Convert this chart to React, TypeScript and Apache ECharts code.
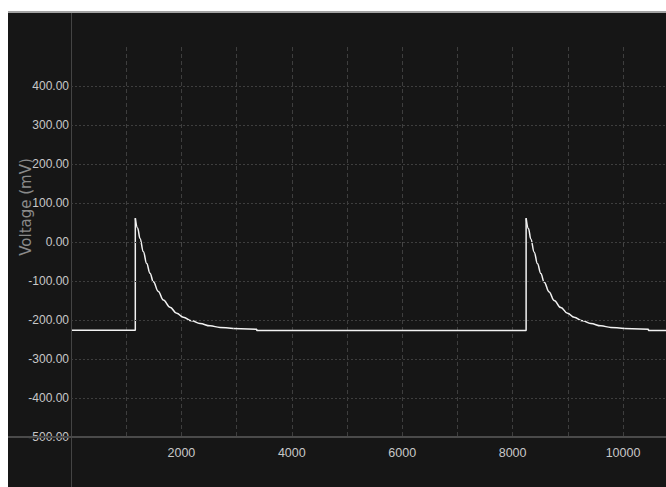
import React, { useEffect, useRef } from "react";
import * as echarts from "echarts";

// Time (x) ticks every 1000, labels every 2000
const xMin = 0;
const xMax = 11000;
const xInterval = 1000;
// Voltage ticks
const yMin = -500;
const yMax = 500;
const yInterval = 100;
const yGridValues = [-400, -300, -200, -100, 0, 100, 200, 300, 400];

// Flat baseline and jumps (null breaks the line where the decay series takes over)
const baseTimes = [0, 1165, 1165, null, 2941, 3365, 3365, 8245, 8245, null, 10021, 10461, 10461, 11000];
const baseVolts = [-226, -226, 61, null, -222, -224, -227, -227, 61, null, -222, -224, -227, -227];

// First decay
const decay1Times = [1165, 1208, 1250, 1311, 1371, 1431, 1492, 1582, 1673, 1794, 1915, 2035, 2187, 2337, 2519, 2700, 2941];
const decay1Volts = [61, 35, 9, -25, -55, -80, -102, -127, -149, -167, -183, -193, -202, -209, -215, -219, -222];

// Second decay
const decay2Times = [8245, 8288, 8330, 8391, 8451, 8511, 8572, 8662, 8753, 8874, 8995, 9115, 9267, 9417, 9599, 9780, 10021];
const decay2Volts = [61, 34, 8, -26, -56, -81, -103, -128, -150, -168, -183, -193, -202, -209, -215, -219, -222];

const zip = (ts: (number | null)[], vs: (number | null)[]) =>
  ts.map((t, i) => (t === null || vs[i] === null ? [null, null] : [t, vs[i]]));

const labelFont = "'Liberation Sans', Arial, sans-serif";

export default function App() {
  const ref = useRef<HTMLDivElement>(null);
  useEffect(() => {
    if (!ref.current) return;
    const chart = echarts.init(ref.current, undefined, { renderer: "svg" });
    const gridColor = "#3e3e3e";
    chart.setOption({
      animation: false,
      backgroundColor: "transparent",
      grid: { left: 63, top: 34, width: 607.2, height: 390, containLabel: false },
      xAxis: {
        type: "value",
        min: xMin,
        max: xMax,
        interval: xInterval,
        axisLine: { show: false },
        axisTick: { show: true, length: 4, lineStyle: { color: "#454545" } },
        splitLine: { show: true, lineStyle: { color: gridColor, type: [4, 3], width: 1 } },
        axisLabel: {
          color: "#c8c8c8",
          fontFamily: labelFont,
          fontSize: 12.5,
          margin: 9,
          formatter: (v: number) => (v !== 0 && v % 2000 === 0 ? String(v) : ""),
        },
      },
      yAxis: {
        type: "value",
        min: yMin,
        max: yMax,
        interval: yInterval,
        axisLine: { show: false },
        axisTick: { show: false },
        splitLine: { show: false },
        axisLabel: {
          color: "#c8c8c8",
          fontFamily: labelFont,
          fontSize: 12,
          margin: 2,
          formatter: (v: number) => (v >= yMax ? "" : v.toFixed(2)),
        },
      },
      graphic: [
        { type: "line", shape: { x1: 63.5, y1: 0, x2: 63.5, y2: 480 }, style: { stroke: "#444", lineWidth: 1 }, z: 5 },
        { type: "line", shape: { x1: 0, y1: 424, x2: 700, y2: 424 }, style: { stroke: "#4a4a4a", lineWidth: 2 }, z: 5 },
        {
          type: "text",
          x: 17.5,
          y: 194,
          rotation: Math.PI / 2,
          style: {
            text: "Voltage (mV)",
            fill: "#8a8a8a",
            font: "15px 'DejaVu Sans', sans-serif",
            textAlign: "center",
            textVerticalAlign: "middle",
          },
        },
      ],
      series: [
        {
          type: "line",
          data: [],
          silent: true,
          z: 1,
          markLine: {
            silent: true,
            symbol: "none",
            label: { show: false },
            lineStyle: { color: gridColor, type: [2, 2], width: 1 },
            data: yGridValues.map((v) => ({ yAxis: v })),
          },
        },
        {
          type: "line",
          data: zip(baseTimes, baseVolts),
          showSymbol: false,
          connectNulls: false,
          lineStyle: { color: "#f2f2f2", width: 1.5 },
          z: 3,
        },
        {
          type: "line",
          data: zip(decay1Times, decay1Volts),
          showSymbol: false,
          smooth: 0.4,
          smoothMonotone: "x",
          lineStyle: { color: "#f2f2f2", width: 1.5 },
          z: 3,
        },
        {
          type: "line",
          data: zip(decay2Times, decay2Volts),
          showSymbol: false,
          smooth: 0.4,
          smoothMonotone: "x",
          lineStyle: { color: "#f2f2f2", width: 1.5 },
          z: 3,
        },
      ],
    });
    return () => chart.dispose();
  }, []);
  return (
    <div
      style={{
        position: "absolute",
        left: 8,
        top: 11,
        width: 658,
        height: 474,
        borderTop: "2px solid #a3a3a3",
        background: "#161616",
        overflow: "hidden",
      }}
    >
      <div ref={ref} style={{ width: 700, height: 474 }} />
    </div>
  );
}
